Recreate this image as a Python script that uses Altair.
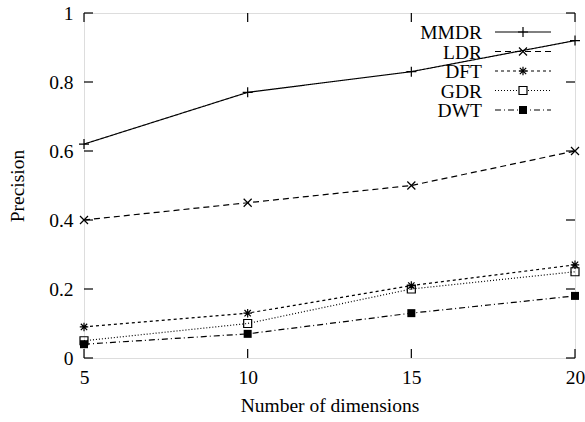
import altair as alt
import pandas as pd

dims = [5, 10, 15, 20]
series_names = ["MMDR", "LDR", "DFT", "GDR", "DWT"]
mmdr = [0.62, 0.77, 0.83, 0.92]
ldr = [0.40, 0.45, 0.50, 0.60]
dft = [0.09, 0.13, 0.21, 0.27]
gdr = [0.05, 0.10, 0.20, 0.25]
dwt = [0.04, 0.07, 0.13, 0.18]
y_ticks = [0, 0.2, 0.4, 0.6, 0.8, 1.0]
x_ticks = [5, 10, 15, 20]

values = {"MMDR": mmdr, "LDR": ldr, "DFT": dft, "GDR": gdr, "DWT": dwt}

PLUS = "M-1,0L1,0M0,-1L0,1"
XSHAPE = "M-1,-1L1,1M-1,1L1,-1"
STAR = "M-1,0L1,0M0,-1L0,1M-0.75,-0.75L0.75,0.75M-0.75,0.75L0.75,-0.75"
styles = {
    "MMDR": dict(dash=[1, 0], shape=PLUS, filled=False, size=100),
    "LDR": dict(dash=[6, 4], shape=XSHAPE, filled=False, size=64),
    "DFT": dict(dash=[3, 3], shape=STAR, filled=False, size=72),
    "GDR": dict(dash=[1, 2], shape="square", filled=False, size=64),
    "DWT": dict(dash=[6, 3, 1, 3], shape="square", filled=True, size=64),
}

FONT = "Liberation Serif, Times New Roman, serif"
W, H = 491, 345
FS = 19.5

xs = alt.Scale(domain=[5, 20], nice=False, zero=False)
ys = alt.Scale(domain=[0, 1], nice=False)

layers = []

axis_base = alt.Chart(pd.DataFrame({"x": [5], "y": [0]})).mark_point(opacity=0).encode(
    x=alt.X("x:Q", scale=xs, title="Number of dimensions",
            axis=alt.Axis(values=x_ticks, ticks=False, tickSize=0, domain=False, grid=False,
                          labelFlush=False, labelOverlap=False,
                          labelFont=FONT, labelFontSize=FS, titleFont=FONT, titleFontSize=FS,
                          titleFontWeight="normal", labelPadding=10, titlePadding=10,
                          labelColor="black", titleColor="black")),
    y=alt.Y("y:Q", scale=ys, title="Precision",
            axis=alt.Axis(values=y_ticks, format=".1~f", ticks=False, tickSize=0, domain=False,
                          labelFlush=False, labelOverlap=False,
                          grid=False, labelFont=FONT, labelFontSize=FS, titleFont=FONT,
                          titleFontSize=FS, titleFontWeight="normal", labelPadding=11,
                          titlePadding=21, labelColor="black", titleColor="black")),
)
layers.append(axis_base)

TL = 9
ydf = pd.DataFrame({"v": y_ticks})
xdf = pd.DataFrame({"v": x_ticks})
for x0, x1 in [(0, TL), (W, W - TL)]:
    layers.append(alt.Chart(ydf).mark_rule(color="black", strokeWidth=1.2).encode(
        y=alt.Y("v:Q", scale=ys), x=alt.value(x0), x2=alt.value(x1)))
for y0, y1 in [(H, H - TL), (0, TL)]:
    layers.append(alt.Chart(xdf).mark_rule(color="black", strokeWidth=1.2).encode(
        x=alt.X("v:Q", scale=xs), y=alt.value(y0), y2=alt.value(y1)))

for name in series_names:
    st = styles[name]
    df = pd.DataFrame({"x": dims, "y": values[name], "s": name})
    layers.append(alt.Chart(df).mark_line(color="black", strokeWidth=1.2, strokeDash=st["dash"]).encode(
        x=alt.X("x:Q", scale=xs), y=alt.Y("y:Q", scale=ys)))
    layers.append(alt.Chart(df).mark_point(
        shape=st["shape"], size=st["size"], filled=st["filled"], color="black",
        fill="black" if st["filled"] else None, strokeWidth=1.2, opacity=1).encode(
        x=alt.X("x:Q", scale=xs), y=alt.Y("y:Q", scale=ys)))

# legend
for i, name in enumerate(series_names):
    st = styles[name]
    ly = 19 + i * 19.5
    one = pd.DataFrame({"s": [name]})
    layers.append(alt.Chart(one).mark_text(font=FONT, fontSize=FS, align="right", baseline="middle",
                                           color="black", dy=1).encode(
        text="s:N", x=alt.value(398), y=alt.value(ly)))
    layers.append(alt.Chart(one).mark_rule(color="black", strokeWidth=1.2, strokeDash=st["dash"]).encode(
        x=alt.value(411), x2=alt.value(467), y=alt.value(ly)))
    layers.append(alt.Chart(one).mark_point(
        shape=st["shape"], size=st["size"], filled=st["filled"], color="black",
        fill="black" if st["filled"] else "white", strokeWidth=1.2, opacity=1).encode(
        x=alt.value(439), y=alt.value(ly)))

chart = alt.layer(*layers).properties(
    width=W, height=H,
    autosize=alt.AutoSizeParams(type="none"),
    padding={"left": 84, "top": 13, "right": 10, "bottom": 64},
).configure_view(stroke="black", strokeWidth=1.3).configure(background="white")

chart.save("out.html", embed_options={"renderer": "svg", "actions": False})
